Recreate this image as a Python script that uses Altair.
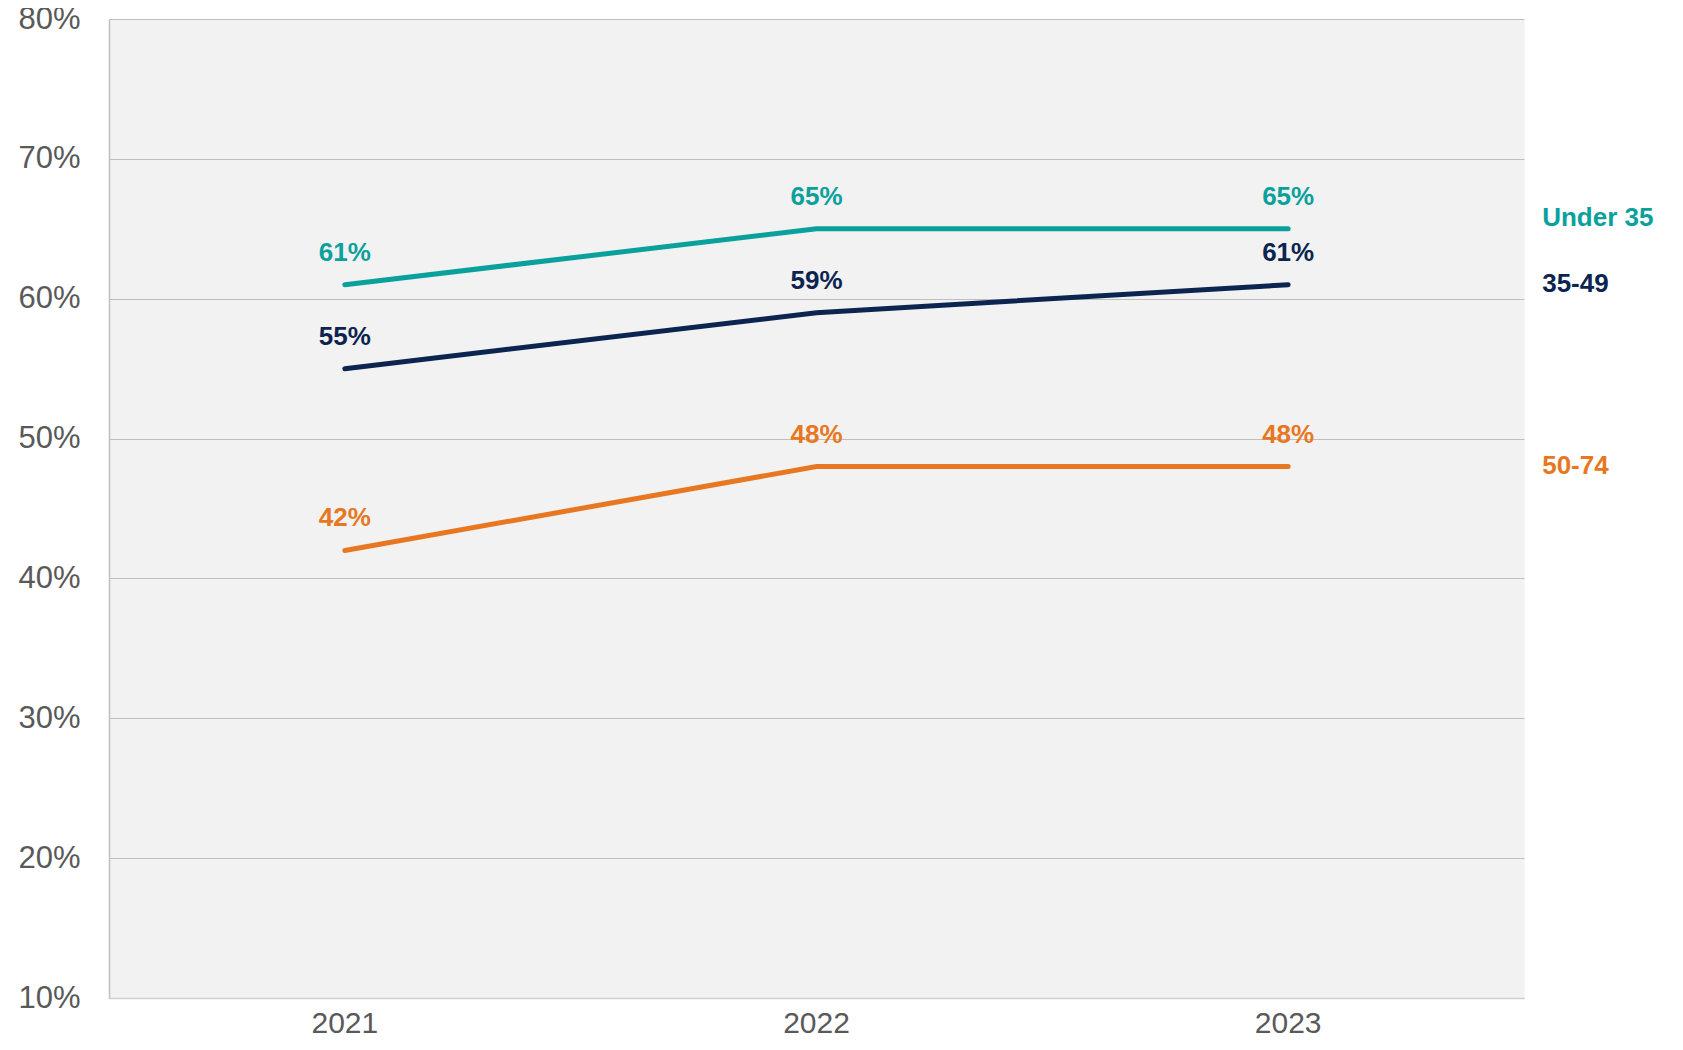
import altair as alt
import pandas as pd

years = ["2021", "2022", "2023"]
series = ["Under 35", "35-49", "50-74"]
under35 = [61, 65, 65]
age35_49 = [55, 59, 61]
age50_74 = [42, 48, 48]
colors = ["#0aa19c", "#0b2550", "#e87722"]
y_ticks = [10, 20, 30, 40, 50, 60, 70, 80]

rows = []
for s, vals in zip(series, [under35, age35_49, age50_74]):
    for y, v in zip(years, vals):
        rows.append({"year": y, "group": s, "value": v, "label": f"{v}%"})
df = pd.DataFrame(rows)
last = df[df["year"] == years[-1]]

FONT = "Liberation Sans"
color_scale = alt.Scale(domain=series, range=colors)

x_enc = alt.X("year:N", sort=years, title=None,
              scale=alt.Scale(type="band", paddingInner=0, paddingOuter=0),
              axis=alt.Axis(labelAngle=0, labelFontSize=30, labelColor="#595959",
                            labelFont=FONT, labelPadding=10, ticks=False,
                            domainColor="#d0d0d0", domainWidth=1.5, grid=False))
y_enc = alt.Y("value:Q", title=None,
              scale=alt.Scale(domain=[10, 80], nice=False, zero=False),
              axis=alt.Axis(values=y_ticks, labelExpr="datum.value + '%'",
                            labelFontSize=31, labelColor="#595959", labelFont=FONT,
                            labelPadding=29, ticks=False, domainColor="#c0c0c0",
                            domainWidth=1.5, gridColor="#bfbfbf", gridWidth=1.2))
c_enc = alt.Color("group:N", scale=color_scale, legend=None)

base = alt.Chart(df)

lines = base.mark_line(strokeWidth=5, strokeCap="round").encode(
    x=x_enc, y=y_enc, color=c_enc, detail="group:N")

point_labels = base.mark_text(font=FONT, fontSize=26, fontWeight="bold",
                              dy=-24, baseline="alphabetic", align="center").encode(
    x=alt.X("year:N", sort=years), y="value:Q", text="label:N", color=c_enc)

end_main = alt.Chart(last[last["group"] != "Under 35"]).mark_text(
    font=FONT, fontSize=26, fontWeight="bold", align="left", baseline="middle",
    dx=254, dy=-1).encode(
    x=alt.X("year:N", sort=years), y="value:Q", text="group:N", color=c_enc)

end_top = alt.Chart(last[last["group"] == "Under 35"]).mark_text(
    font=FONT, fontSize=26, fontWeight="bold", align="left", baseline="middle",
    dx=254, dy=-11).encode(
    x=alt.X("year:N", sort=years), y="value:Q", text="group:N", color=c_enc)

chart = alt.layer(lines, point_labels, end_main, end_top).properties(
    width=1415, height=979,
    background="white",
    autosize=alt.AutoSizeParams(type="none"),
    padding={"left": 101, "top": 11, "right": 145, "bottom": 44},
).configure_view(fill="#f2f2f2", strokeOpacity=0)

chart.save("out.html", embed_options={"renderer": "svg", "actions": False})
